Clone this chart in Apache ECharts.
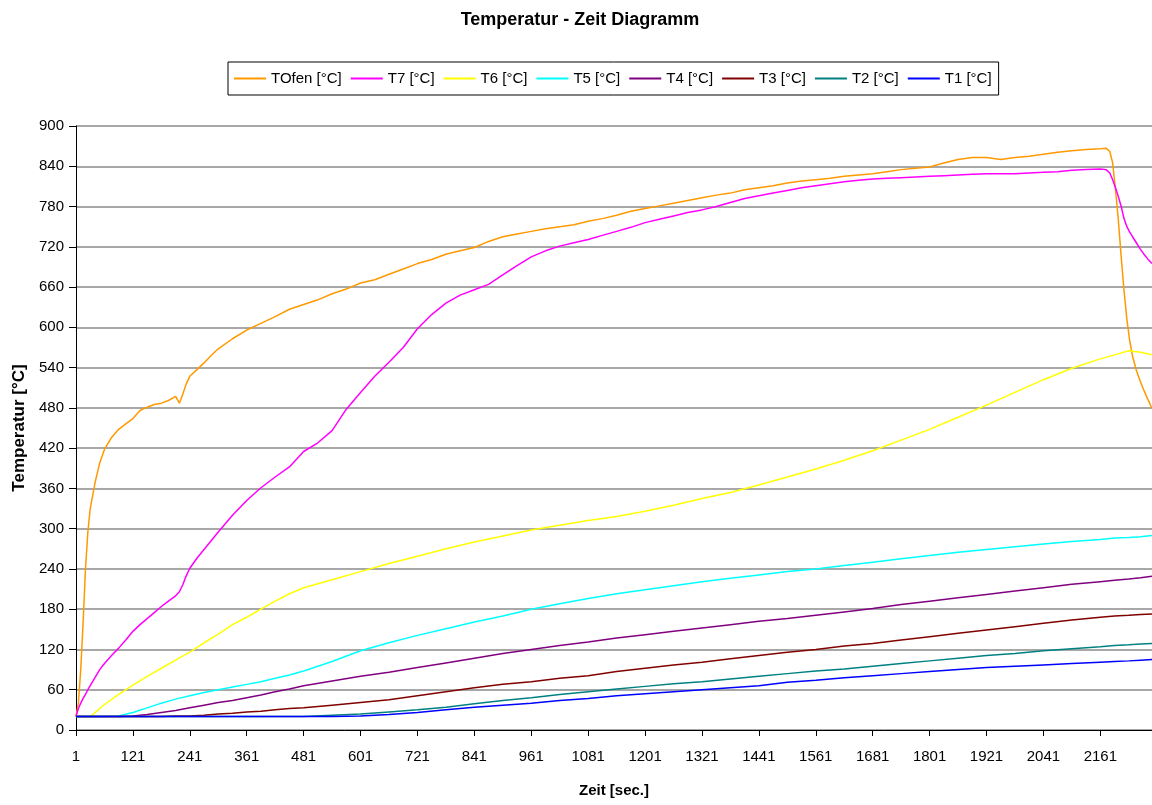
<!DOCTYPE html>
<html>
<head>
<meta charset="utf-8">
<title>Temperatur - Zeit Diagramm</title>
<script src="https://cdn.jsdelivr.net/npm/echarts@6/dist/echarts.min.js"></script>
<style>
  html, body { margin: 0; padding: 0; background: #fff; }
  #chart { width: 1152px; height: 805px; }
</style>
</head>
<body>
<div id="chart"></div>
<script>
// Elapsed seconds (row 1 = 0 s) for the fast-changing curves: furnace and T7
const zeitA = [
  0, 5, 10, 15, 20, 25, 30,
  40, 50, 60,
  75, 90, 105, 120, 135, 150, 165, 180, 195, 210,
  218, 225, 232, 240,
  255, 270, 285, 300,
  330, 360, 390, 420, 450, 480, 510, 540, 570, 600,
  630, 660, 690, 720, 750, 780, 810, 840, 870, 900,
  930, 960, 990, 1020, 1050, 1080, 1110, 1140, 1170, 1200,
  1230, 1260, 1290, 1320, 1350, 1380, 1410, 1440, 1470, 1500,
  1530, 1560, 1590, 1620, 1650, 1680, 1710, 1740, 1770, 1800,
  1830, 1860, 1890, 1920, 1950, 1980, 2010, 2040, 2070, 2100,
  2130, 2160,
  2172, 2180, 2186, 2192, 2198, 2204, 2210, 2216, 2222, 2228,
  2236, 2244, 2252, 2260, 2269
];

const tOfen = [
  20, 40, 90, 160, 240, 295, 330,
  368, 398, 418,
  436, 448, 456, 464, 476, 481, 485, 487, 491, 497,
  487, 500, 515, 527,
  537, 547, 558, 568,
  583, 596, 606, 616, 627, 634, 641, 650, 657, 666,
  671, 679, 687, 695, 701, 709, 714, 719, 728, 735,
  739, 743, 747, 750, 753, 758, 762, 767, 773, 777,
  781, 785, 789, 793, 797, 800, 805, 808, 811, 815,
  818, 820, 822, 825, 827, 829, 832, 835, 837, 839,
  845, 850, 853, 853, 850, 853, 855, 858, 861, 863,
  865, 866,
  867, 862, 845, 805, 760, 705, 655, 612, 580, 557,
  536, 520, 506, 493, 479
];

const t7 = [
  20, 32, 40, 47, 53, 60, 66,
  78, 90, 99,
  111, 122, 134, 147, 157, 166, 175, 184, 192, 200,
  206, 216, 229, 241,
  256, 269, 282, 295,
  320, 342, 361, 377, 392, 415, 428, 446, 478, 503,
  527, 548, 570, 598, 619, 636, 648, 656, 664, 678,
  692, 705, 714, 721, 726, 731, 737, 743, 749, 756,
  761, 766, 771, 775, 780, 786, 792, 796, 800, 804,
  808, 811, 814, 817, 819, 821, 822, 823, 824, 825,
  826, 827, 828, 829, 829, 829, 830, 831, 832, 834,
  835, 836,
  835, 830, 820, 808, 795, 780, 762, 750, 742, 735,
  726, 717, 709, 702, 695
];

// Elapsed seconds for the slower inner sensors T6 ... T1
const zeitB = [
  0, 30, 60, 90, 120, 150, 180, 210, 240, 270, 300, 330, 360, 390, 420, 450, 480,
  540, 600, 660, 720, 780, 840, 900, 960, 1020, 1080, 1140, 1200, 1260,
  1320, 1380, 1440, 1500, 1560, 1620, 1680, 1740, 1800, 1860, 1920, 1980, 2040, 2100, 2160,
  2190, 2220, 2245, 2269
];

const t6 = [
  20, 20, 38, 53, 67, 80, 92, 104, 116, 130, 143, 157, 168, 180, 192, 203, 212,
  224, 236, 248, 259, 270, 280, 289, 298, 305, 312, 318, 326, 335,
  345, 354, 365, 377, 389, 402, 416, 432, 448, 466, 484, 503, 522, 539, 553,
  559, 565, 563, 559
];

const t5 = [
  20, 20, 20, 21, 26, 33, 40, 46, 51, 56, 60, 64, 68, 72, 77, 82, 88,
  102, 118, 130, 141, 151, 161, 170, 180, 188, 196, 203, 209, 215,
  221, 226, 231, 236, 240, 245, 250, 255, 260, 265, 269, 273, 277, 281, 284,
  286, 287, 288, 290
];

const t4 = [
  20, 20, 20, 20, 21, 23, 26, 29, 33, 37, 41, 44, 48, 52, 57, 61, 66,
  73, 80, 86, 93, 100, 107, 114, 120, 126, 131, 137, 142, 147,
  152, 157, 162, 166, 171, 176, 181, 187, 192, 197, 202, 207, 212, 217, 221,
  223, 225, 227, 229
];

const t3 = [
  20, 20, 20, 20, 20, 20, 20, 21, 21, 22, 24, 25, 27, 28, 30, 32, 33,
  37, 41, 45, 51, 57, 63, 68, 72, 77, 81, 87, 92, 97,
  101, 106, 111, 116, 120, 125, 129, 134, 139, 144, 149, 154, 159, 164, 168,
  170, 171, 172, 173
];

const t2 = [
  20, 20, 20, 20, 20, 20, 20, 20, 20, 20, 20, 20, 20, 20, 20, 20, 20,
  22, 24, 27, 30, 34, 39, 44, 48, 53, 57, 61, 65, 69,
  72, 76, 80, 84, 88, 91, 95, 99, 103, 107, 111, 114, 118, 121, 124,
  126, 127, 128, 129
];

const t1 = [
  20, 20, 20, 20, 20, 20, 20, 20, 20, 20, 20, 20, 20, 20, 20, 20, 20,
  20, 21, 23, 26, 30, 34, 37, 40, 44, 47, 51, 54, 57,
  60, 63, 66, 71, 74, 78, 81, 84, 87, 90, 93, 95, 97, 99, 101,
  102, 103, 104, 105
];

const seriesNames = ['TOfen [°C]', 'T7 [°C]', 'T6 [°C]', 'T5 [°C]', 'T4 [°C]', 'T3 [°C]', 'T2 [°C]', 'T1 [°C]'];
const seriesColors = ['#FF9900', '#FF00FF', '#FFFF00', '#00FFFF', '#800080', '#800000', '#008080', '#0000FF'];
const seriesValues = [tOfen, t7, t6, t5, t4, t3, t2, t1];
const seriesTimes = [zeitA, zeitA, zeitB, zeitB, zeitB, zeitB, zeitB, zeitB];

const FONT = "'Liberation Sans', Arial, sans-serif";

const chart = echarts.init(document.getElementById('chart'), null, { renderer: 'canvas' });

chart.setOption({
  animation: false,
  backgroundColor: '#ffffff',
  title: {
    text: 'Temperatur - Zeit Diagramm',
    left: 580,
    top: 11,
    padding: 0,
    textAlign: 'center',
    textStyle: { fontFamily: FONT, fontSize: 18, fontWeight: 'bold', color: '#000' }
  },
  legend: {
    left: 228,
    top: 62,
    orient: 'horizontal',
    icon: 'rect',
    itemWidth: 32,
    itemHeight: 2,
    itemGap: 9,
    padding: [9, 7, 9, 6],
    borderColor: '#000',
    borderWidth: 1,
    data: seriesNames,
    textStyle: { fontFamily: FONT, fontSize: 15, color: '#000' }
  },
  grid: { left: 76, right: 0, top: 126, bottom: 75, containLabel: false },
  xAxis: {
    type: 'value',
    min: 0,
    max: 2269,
    interval: 120,
    name: 'Zeit [sec.]',
    nameLocation: 'middle',
    nameGap: 53,
    nameTextStyle: { fontFamily: FONT, fontSize: 15, fontWeight: 'bold', color: '#000' },
    axisLine: { show: true, lineStyle: { color: '#000', width: 1 } },
    axisTick: { show: true, inside: false, length: 6, lineStyle: { color: '#000' } },
    axisLabel: {
      fontFamily: FONT, fontSize: 15, color: '#000', margin: 19,
      showMaxLabel: false,
      formatter: (v) => String(v + 1)
    },
    splitLine: { show: false }
  },
  yAxis: {
    type: 'value',
    min: 0,
    max: 900,
    interval: 60,
    name: 'Temperatur [°C]',
    nameLocation: 'middle',
    nameRotate: 90,
    nameGap: 47,
    nameTextStyle: { fontFamily: FONT, fontSize: 17, fontWeight: 'bold', color: '#000' },
    axisLine: { show: true, lineStyle: { color: '#000', width: 1 } },
    axisTick: { show: true, inside: false, length: 7, lineStyle: { color: '#000' } },
    axisLabel: { fontFamily: FONT, fontSize: 15, color: '#000', margin: 12 },
    splitLine: { show: true, lineStyle: { color: '#a8a8a8', width: 2 } }
  },
  series: seriesNames.map((name, i) => ({
    name: name,
    type: 'line',
    showSymbol: false,
    symbol: 'none',
    color: seriesColors[i],
    lineStyle: { color: seriesColors[i], width: 1.5 },
    data: seriesTimes[i].map((z, k) => [z, seriesValues[i][k]])
  }))
});
</script>
</body>
</html>
